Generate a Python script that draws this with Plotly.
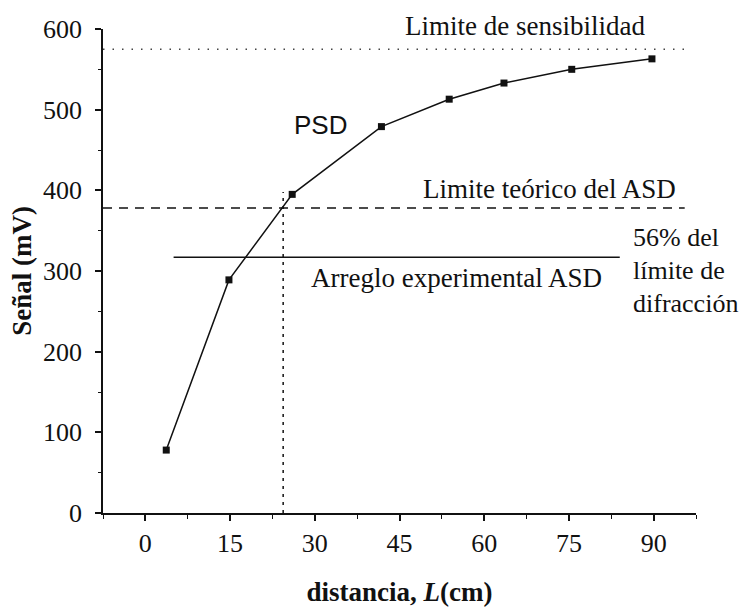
import plotly.graph_objects as go

# Data
distance_cm = [3.7, 14.8, 26.0, 41.8, 53.8, 63.5, 75.5, 89.7]
signal_mV = [78, 289, 395, 479, 513, 533, 550, 563]

sens_limit_x = [-7.5, 96]
sens_limit_y = [575, 575]
asd_theory_x = [-7.5, 95.5]
asd_theory_y = [378, 378]
asd_exp_x = [5, 84]
asd_exp_y = [317, 317]
cross_x = [24.4, 24.4]
cross_y = [0, 398]

x_ticks = [0, 15, 30, 45, 60, 75, 90]
y_ticks = [0, 100, 200, 300, 400, 500, 600]

SERIF = "Liberation Serif"
BLACK = "#111111"

fig = go.Figure()
fig.add_trace(go.Scatter(x=sens_limit_x, y=sens_limit_y, mode="lines",
                         line=dict(color="#444444", width=1.5, dash="1.5px,8px"),
                         hoverinfo="skip", showlegend=False))
fig.add_trace(go.Scatter(x=asd_theory_x, y=asd_theory_y, mode="lines",
                         line=dict(color=BLACK, width=1.5, dash="9px,7px"),
                         hoverinfo="skip", showlegend=False))
fig.add_trace(go.Scatter(x=asd_exp_x, y=asd_exp_y, mode="lines",
                         line=dict(color=BLACK, width=1.5),
                         hoverinfo="skip", showlegend=False))
fig.add_trace(go.Scatter(x=cross_x, y=cross_y, mode="lines",
                         line=dict(color=BLACK, width=1.5, dash="3px,5px"),
                         hoverinfo="skip", showlegend=False))
fig.add_trace(go.Scatter(x=distance_cm, y=signal_mV, mode="lines+markers",
                         line=dict(color=BLACK, width=1.5),
                         marker=dict(symbol="square", size=7, color=BLACK),
                         showlegend=False))

ann_font = dict(family=SERIF, size=27, color=BLACK)
fig.add_annotation(x=67.2, y=1.006, yref="paper", text="Limite de sensibilidad",
                   showarrow=False, font=ann_font, xanchor="center", yanchor="middle")
fig.add_annotation(x=31.0, y=481, text="PSD", showarrow=False,
                   font=dict(family="Liberation Sans", size=26, color=BLACK),
                   xanchor="center", yanchor="middle")
fig.add_annotation(x=71.5, y=402, text="Limite teórico del ASD", showarrow=False,
                   font=ann_font, xanchor="center", yanchor="middle")
fig.add_annotation(x=55.1, y=291, text="Arreglo experimental ASD", showarrow=False,
                   font=ann_font, xanchor="center", yanchor="middle")
side_lines = ["56% del", "límite de", "difracción"]
side_y = [341, 301, 260]
for t, yy in zip(side_lines, side_y):
    fig.add_annotation(x=86.0, y=yy, text=t, showarrow=False,
                       font=dict(family=SERIF, size=26, color=BLACK),
                       xanchor="left", yanchor="middle", align="left")

axis_common = dict(showline=True, linecolor=BLACK, linewidth=1.5, showgrid=False,
                   zeroline=False, ticks="outside", ticklen=6, tickwidth=1.5,
                   tickcolor=BLACK, tickfont=dict(family=SERIF, size=26, color=BLACK))

fig.update_xaxes(range=[-7.5, 97.5], tickvals=x_ticks, **axis_common,
                 minor=dict(ticks="outside", ticklen=4, dtick=7.5, tick0=0,
                            tickcolor=BLACK, tickwidth=1.2),
                 title=dict(text="<b>distancia, <i>L</i>(cm)</b>",
                            font=dict(family=SERIF, size=27, color=BLACK), standoff=26))
fig.update_yaxes(range=[0, 600], tickvals=y_ticks, **axis_common,
                 ticklabelstandoff=8,
                 minor=dict(ticks="outside", ticklen=3, dtick=50, tick0=0,
                            tickcolor=BLACK, tickwidth=1.2),
                 title=dict(text="<b>Señal (mV)</b>",
                            font=dict(family=SERIF, size=27, color=BLACK), standoff=4))

fig.update_layout(width=742, height=607, plot_bgcolor="white", paper_bgcolor="white",
                  margin=dict(l=103, r=46, t=29, b=94, autoexpand=False),
                  showlegend=False)

fig.write_html("out.html")
